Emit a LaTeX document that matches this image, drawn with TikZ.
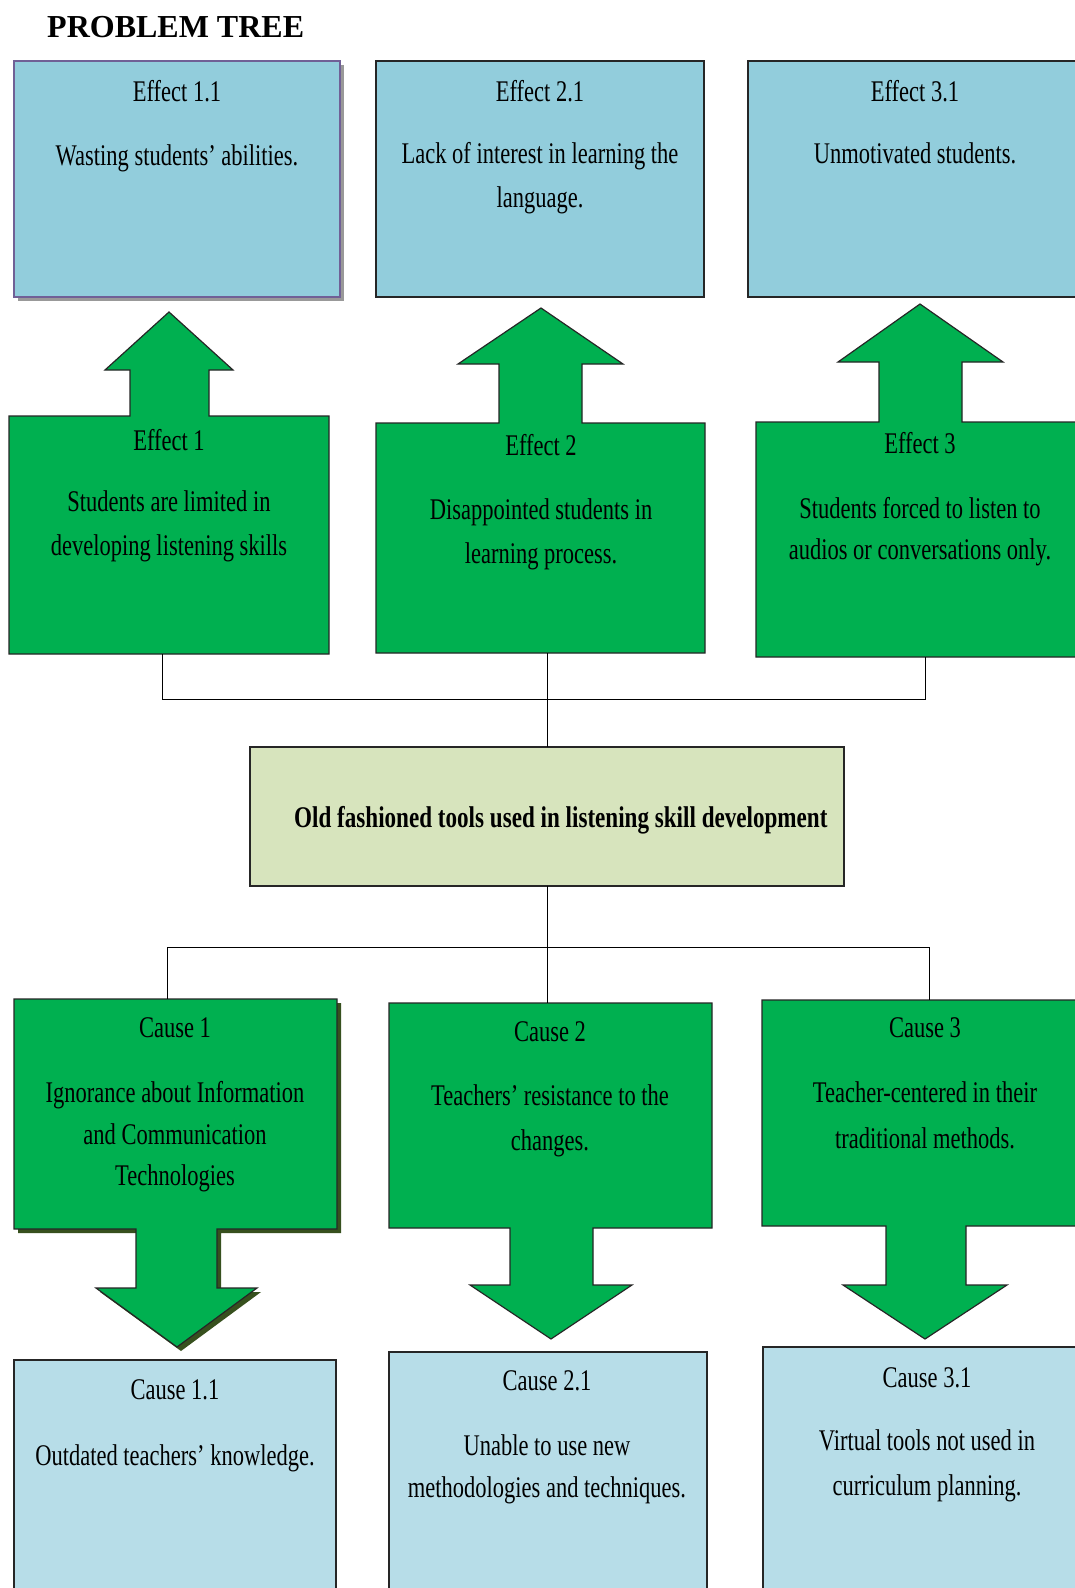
\documentclass[tikz,border=0pt]{standalone}
\usepackage{fontspec}
\setmainfont{Liberation Serif}
\newfontfamily\cond[FakeStretch=0.75]{Liberation Serif}
\newfontfamily\condb[FakeStretch=0.77]{Liberation Serif}
\definecolor{topblue}{RGB}{146,205,220}
\definecolor{botblue}{RGB}{183,221,232}
\definecolor{grn}{RGB}{0,176,80}
\definecolor{corefill}{RGB}{215,228,189}
\definecolor{purpleline}{RGB}{112,96,150}
\definecolor{olive}{RGB}{55,80,30}
\begin{document}
\begin{tikzpicture}[x=1pt,y=-1pt,
  lbox/.style={draw=black!85,line width=1.2pt,inner sep=0pt,outer sep=0pt},
  anchorbox/.style={inner sep=0pt,outer sep=0pt},
  garrow/.style={fill=grn,draw=black!85,line width=1.2pt,line join=miter},
  conn/.style={draw=black,line width=1pt},
  txt/.style={font=\cond\fontsize{30}{44}\selectfont,inner sep=0pt,anchor=north,align=center}]
\clip (0,0) rectangle (1075,1588);
\fill[white] (0,0) rectangle (1075,1588);
% title
\node[anchor=base west,inner sep=0pt,font=\fontsize{32}{36}\selectfont\bfseries] (title) at (47,37) {PROBLEM TREE};
% shadows
\fill[black!40] (18,65) rectangle (344,301);
\fill[olive] (18,1003) -- (341,1003) -- (341,1233) -- (221,1233) -- (221,1292) -- (261,1292) -- (181,1351) -- (100,1292) -- (140,1292) -- (140,1233) -- (18,1233) -- cycle;
% top effect boxes
\node[lbox,draw=purpleline,fill=topblue,minimum width=326pt,minimum height=236pt] (e11) at (177,179) {};
\node[lbox,fill=topblue,minimum width=328pt,minimum height=236pt] (e21) at (540,179) {};
\node[lbox,fill=topblue,minimum width=337pt,minimum height=236pt] (e31) at (916.5,179) {};
% green effect arrows
\draw[garrow] (9,654) -- (9,416) -- (130,416) -- (130,370) -- (105,370) -- (169,312) -- (233,370) -- (209,370) -- (209,416) -- (329,416) -- (329,654) -- cycle;
\draw[garrow] (376,653) -- (376,423) -- (499,423) -- (499,364) -- (458,364) -- (541,308) -- (623,364) -- (582,364) -- (582,423) -- (705,423) -- (705,653) -- cycle;
\draw[garrow] (756,657) -- (756,422) -- (879,422) -- (879,362) -- (838,362) -- (920,304) -- (1003,362) -- (962,362) -- (962,422) -- (1085,422) -- (1085,657) -- cycle;
\node[anchorbox,minimum width=320pt,minimum height=238pt] (e1) at (169,535) {};
\node[anchorbox,minimum width=329pt,minimum height=230pt] (e2) at (540.5,538) {};
\node[anchorbox,minimum width=329pt,minimum height=235pt] (e3) at (920.5,539.5) {};
% core
\node[lbox,fill=corefill,minimum width=594pt,minimum height=139pt] (core) at (547,816.5) {};
% green cause arrows
\draw[garrow] (14,999) -- (337,999) -- (337,1229) -- (217,1229) -- (217,1288) -- (257,1288) -- (177,1347) -- (96,1288) -- (136,1288) -- (136,1229) -- (14,1229) -- cycle;
\draw[garrow] (389,1003) -- (712,1003) -- (712,1228) -- (593,1228) -- (593,1285) -- (632,1285) -- (551,1339) -- (470,1285) -- (510,1285) -- (510,1228) -- (389,1228) -- cycle;
\draw[garrow] (762,1000) -- (1085,1000) -- (1085,1226) -- (966,1226) -- (966,1285) -- (1007,1285) -- (925,1339) -- (843,1285) -- (886,1285) -- (886,1226) -- (762,1226) -- cycle;
\node[anchorbox,minimum width=323pt,minimum height=230pt] (c1) at (175.5,1114) {};
\node[anchorbox,minimum width=323pt,minimum height=225pt] (c2) at (550.5,1115.5) {};
\node[anchorbox,minimum width=323pt,minimum height=226pt] (c3) at (923.5,1113) {};
% bottom cause boxes
\node[lbox,fill=botblue,minimum width=322pt,minimum height=240pt] (c11) at (175,1480) {};
\node[lbox,fill=botblue,minimum width=318pt,minimum height=248pt] (c21) at (548,1476) {};
\node[lbox,fill=botblue,minimum width=322pt,minimum height=253pt] (c31) at (924,1473.5) {};
% connectors
\coordinate (jt1) at (162,699);
\coordinate (jt3) at (925,699);
\coordinate (jb1) at (167,947);
\coordinate (jb3) at (929,947);
\draw[conn] (e1.south -| jt1) -- (jt1) -- (jt3) -- (e3.south -| jt3);
\draw[conn] (core.north |- e2.south) -- (core.north);
\draw[conn] (core.south) -- (core.south |- jb1);
\draw[conn] (c1.north -| jb1) -- (jb1) -- (jb3) -- (c3.north -| jb3);
\draw[conn] (core.south |- jb1) -- (core.south |- c2.north);
% texts top
\node[txt] (e11l) at (177,80.5) {Effect  1.1};
\node[txt] (e11d) at (177,144.5) {Wasting  students’  abilities.};
\node[txt] (e21l) at (540,80.5) {Effect  2.1};
\node[txt] (e21d) at (540,142.5) {Lack of interest  in  learning  the\\language.};
\node[txt] (e31l) at (915,80.5) {Effect  3.1};
\node[txt] (e31d) at (915,142.5) {Unmotivated  students.};
% texts green effects
\node[txt] (e1l) at (169,429.5) {Effect  1};
\node[txt] (e1d) at (169,490.5) {Students  are limited  in\\developing  listening  skills};
\node[txt] (e2l) at (541,434.5) {Effect  2};
\node[txt] (e2d) at (541,498.5) {Disappointed  students  in\\learning  process.};
\node[txt] (e3l) at (920,432.5) {Effect  3};
\node[txt,font=\cond\fontsize{30}{41}\selectfont] (e3d) at (920,497.5) {Students  forced to listen  to\\audios  or conversations  only.};
% core text
\node[inner sep=0pt,anchor=north west,font=\condb\fontsize{30}{36}\selectfont\bfseries] (coret) at (294,806.5) {Old fashioned  tools used in listening  skill development};
% texts green causes
\node[txt] (c1l) at (175,1017.5) {Cause  1};
\node[txt,font=\cond\fontsize{30}{41.5}\selectfont] (c1d) at (175,1081.5) {Ignorance  about Information\\and Communication\\Technologies};
\node[txt] (c2l) at (550,1021.5) {Cause  2};
\node[txt,font=\cond\fontsize{30}{45}\selectfont] (c2d) at (550,1084.5) {Teachers’  resistance  to the\\changes.};
\node[txt] (c3l) at (925,1017.5) {Cause  3};
\node[txt,font=\cond\fontsize{30}{46}\selectfont] (c3d) at (925,1081.5) {Teacher-centered  in  their\\traditional  methods.};
% texts bottom
\node[txt] (c11l) at (175,1379.5) {Cause 1.1};
\node[txt] (c11d) at (175,1444.5) {Outdated teachers’ knowledge.};
\node[txt] (c21l) at (547,1370.5) {Cause 2.1};
\node[txt,font=\cond\fontsize{30}{42}\selectfont] (c21d) at (547,1434.5) {Unable to use new\\methodologies  and techniques.};
\node[txt] (c31l) at (927,1367.5) {Cause 3.1};
\node[txt,font=\cond\fontsize{30}{45}\selectfont] (c31d) at (927,1429.5) {Virtual  tools not used in\\curriculum  planning.};
\end{tikzpicture}
\end{document}
